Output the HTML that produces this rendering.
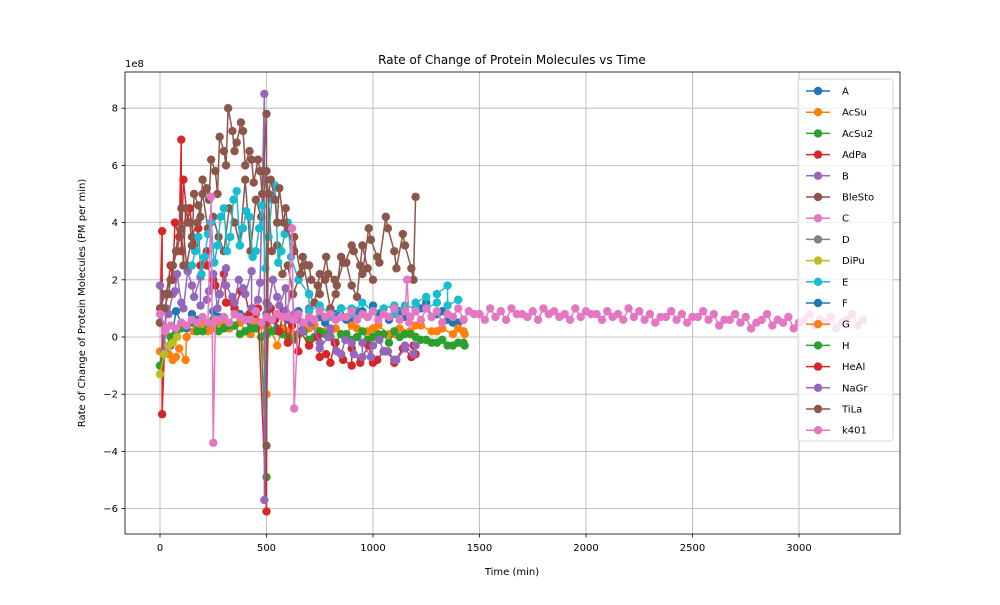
<!DOCTYPE html>
<html><head><meta charset="utf-8"><style>
body{margin:0;background:#fff;font-family:"Liberation Sans","DejaVu Sans",sans-serif}
svg text{font-family:"DejaVu Sans","Liberation Sans",sans-serif}
</style></head><body>
<svg id="chart" width="1000" height="600" xmlns="http://www.w3.org/2000/svg"></svg>
<script>
const xTicks=[0,500,1000,1500,2000,2500,3000];
const yTicks=[-6,-4,-2,0,2,4,6,8];
const seriesNames=["A","AcSu","AcSu2","AdPa","B","BleSto","C","D","DiPu","E","F","G","H","HeAl","NaGr","TiLa","k401"];
const seriesColors=["#1f77b4","#ff7f0e","#2ca02c","#d62728","#9467bd","#8c564b","#e377c2","#7f7f7f","#bcbd22","#17becf","#1f77b4","#ff7f0e","#2ca02c","#d62728","#9467bd","#8c564b","#e377c2"];
const blueT=[0,50,100,150,200,250,300,350,400,450,500,550,600,650,700,750,800,850,900,950,1000,1050,1100,1150,1200,1250,1300,1350,1400];
const blueV=[0.5,-0.3,0.5,0.8,0.6,0.9,0.4,1.0,0.7,0.5,0.8,0.3,0.6,0.9,0.5,0.7,0.8,1.0,0.6,0.9,1.1,0.8,1.0,0.7,0.9,1.2,0.8,0.6,0.5];
const blueXT=[25,75,125,175,225,275,325,375,425,475,525,575,625,675,725,775,825,875,925,975,1025,1075,1125,1175,1225,1275,1325,1375,1425];
const blueXV=[0.2,0.9,0.3,0.6,0.4,0.7,0.3,0.8,0.5,0.4,0.6,0.3,0.7,0.4,0.6,0.5,0.8,0.6,0.9,0.7,0.8,0.6,0.9,0.7,1.0,0.7,0.9,0.5,0.6];
const orangeT=[0,40,60,90,120,160,200,250,300,350,400,450,500,510,550,600,650,700,800,900,1000,1100,1200,1300,1400,1430];
const orangeV=[-0.5,-0.6,-0.8,-0.4,-0.8,0.2,0.5,0.3,0.6,0.4,0.2,0.5,-2.0,0.3,-0.3,0.2,0.1,0.3,0.2,0.4,0.3,0.1,0.4,0.2,0.3,0.1];
const orangeXT=[25,75,125,175,225,275,325,375,425,475,525,575,625,675,725,775,825,875,925,975,1025,1075,1125,1175,1225,1275,1325,1375,1425];
const orangeXV=[-0.4,-0.7,0.0,0.4,0.2,0.5,0.3,0.5,0.1,0.4,0.2,0.3,0.1,0.2,0.4,0.2,0.3,0.1,0.3,0.2,0.4,0.1,0.3,0.2,0.4,0.2,0.3,0.1,0.2];
const greenT=[0,50,100,150,200,250,300,350,400,450,500,500,550,600,650,700,750,800,850,900,950,1000,1050,1100,1150,1200,1250,1300,1350,1400,1430];
const greenV=[-1.0,0.0,0.3,0.5,0.2,0.6,0.3,0.4,0.2,0.3,-4.9,0.1,0.2,0.0,0.1,-0.1,0.2,0.0,0.1,-0.1,0.2,0.0,0.1,0.2,0.1,0.0,-0.1,-0.2,-0.3,-0.2,-0.3];
const greenXT=[25,75,125,175,225,275,325,375,425,475,525,575,625,675,725,775,825,875,925,975,1025,1075,1125,1175,1225,1275,1325,1375,1425];
const greenXV=[0.3,0.1,0.4,0.2,0.5,0.2,0.4,0.1,0.3,0.0,0.2,0.1,-0.1,0.2,0.0,0.1,-0.2,0.1,0.0,-0.1,0.1,-0.2,0.0,0.1,-0.1,-0.2,-0.1,-0.3,-0.2];
const redT=[0,10,10,30,50,70,90,100,110,130,160,190,220,250,280,310,350,400,450,500,500,520,560,600,650,700,750,800,850,900,950,1000,1050,1100,1150,1200];
const redV=[0.5,3.7,-2.7,1.5,2.5,4.0,3.5,6.9,5.5,4.0,3.2,2.5,3.0,2.0,1.5,1.2,1.0,1.5,0.8,-6.1,0.5,1.0,0.2,-0.2,-0.5,-0.3,-0.7,-0.9,-0.6,-1.0,-0.7,-0.9,-0.5,-0.8,-0.4,-0.6];
const redXT=[60,100,140,180,220,260,300,340,380,420,460,540,580,620,660,700,740,780,820,860,900,940,980,1020,1060,1100,1140,1180,1190];
const redXV=[2.0,3.0,4.5,3.8,2.5,1.8,2.2,1.2,1.6,0.8,1.0,0.6,0.9,0.4,0.2,-0.3,0.0,-0.6,-0.2,-0.8,-0.4,-0.9,-0.3,-0.8,-0.5,-0.9,-0.4,-0.7,-0.3];
const purpleT=[0,20,40,60,80,100,130,160,190,220,250,280,310,340,370,400,430,460,490,490,500,530,560,590,620,650,700,750,800,850,900,950,1000,1050,1100,1150,1200];
const purpleV=[1.8,-0.5,0.8,1.5,2.2,1.2,2.3,1.4,2.1,1.3,2.2,1.5,2.4,1.4,2.0,1.5,2.3,1.3,8.5,-5.7,1.2,2.0,1.1,1.7,1.5,0.6,1.0,-0.2,0.3,-0.6,-0.2,-0.7,-0.3,-0.5,-0.8,-0.4,-0.3];
const purpleXT=[30,70,110,150,190,230,270,310,350,390,430,470,510,550,590,630,670,710,750,790,830,870,910,950,990,1030,1070,1110,1150,1190];
const purpleXV=[1.0,1.6,1.0,1.8,1.1,1.6,1.0,1.8,1.2,1.7,1.0,1.9,1.1,1.4,0.9,0.8,0.2,0.5,-0.4,0.0,-0.5,-0.1,-0.6,-0.2,-0.7,-0.1,-0.5,-0.8,-0.3,-0.6];
const bleStoT=[0,50,100,150,200,250,300,350,400,450,500,550,600,650,700,750,800,850,900,950,1000];
const bleStoV=[1.0,2.0,4.5,3.5,5.0,4.2,3.0,4.0,5.5,4.8,5.8,3.2,2.5,2.0,1.5,2.2,1.0,2.8,1.8,3.2,2.0];
const bleStoXT=[25,75,125,175,225,275,325,375,425,475,525,575,625,675,725,775,825,875,925,975];
const bleStoXV=[1.5,3.0,2.5,4.0,3.8,3.5,4.5,3.2,3.0,4.2,3.0,2.2,1.5,2.5,1.2,2.0,1.5,2.6,1.4,2.4];
const cyanT=[150,180,210,240,270,300,330,360,390,420,450,480,510,540,570,600,650,700,800,900,1000,1100,1200,1250,1300,1350,1400];
const cyanV=[2.5,3.5,2.8,4.0,3.2,4.5,3.5,5.1,3.8,4.2,3.0,4.6,3.5,5.3,3.0,4.0,2.0,1.5,0.8,1.0,0.9,1.1,1.0,1.4,1.2,1.8,1.3];
const cyanXT=[165,195,225,255,285,315,345,375,405,435,465,495,525,555,585,615,700,750,800,850,900,950,1000,1050,1100,1150,1200,1250,1300,1350,1400];
const cyanXV=[3.0,2.2,3.6,2.6,4.2,3.0,4.8,3.2,4.4,2.8,3.8,2.4,4.8,2.6,3.6,2.8,0.9,1.1,0.7,1.0,0.8,1.2,0.9,1.0,0.8,1.1,1.2,1.0,1.5,1.1,1.3];
const oliveT=[0,20,40,60,80];
const oliveV=[-1.3,-0.6,-0.3,-0.2,0.0];
const tiLaT=[0,20,40,60,80,100,120,140,160,180,200,220,240,260,280,300,320,340,360,380,400,420,440,460,480,500,500,520,540,560,580,600,630,660,700,740,780,820,860,900,940,980,1020,1060,1100,1140,1180,1200];
const tiLaV=[0.5,1.0,1.5,2.5,3.0,3.8,4.5,4.0,5.0,4.6,5.5,5.2,6.2,5.8,7.0,6.5,8.0,7.2,6.8,7.5,6.0,6.5,5.4,6.2,5.0,7.8,-3.8,5.5,4.8,5.2,4.0,3.8,3.0,2.2,2.5,1.8,2.8,2.0,2.6,3.2,2.5,3.8,2.8,4.2,3.0,3.6,2.4,4.9];
const tiLaXT=[110,150,190,230,270,310,350,390,430,470,510,550,590,630,670,710,750,790,830,870,910,950,990,1030,1070,1110,1150,1190];
const tiLaXV=[2.5,3.2,4.2,4.8,5.0,6.0,6.5,7.2,6.2,5.8,5.0,4.0,4.5,3.5,2.8,2.0,1.5,2.2,1.8,2.6,3.0,2.2,3.4,2.6,3.8,2.4,3.2,2.0];
const k401T=[0,25,50,100,150,200,240,250,260,300,350,400,450,500,550,600,620,630,650,700,750,800,850,900,950,1000,1050,1100,1150,1160,1170,1200,1250,1300,1350,1400,1450,1500,1550,1600,1650,1700,1750,1800,1850,1900,1950,2000,2050,2100,2150,2200,2250,2300,2350,2400,2450,2500,2550,2600,2650,2700,2750,2800,2850,2900,2950,3000,3050,3100,3150,3200,3250,3300];
const k401V=[0.8,0.3,0.4,0.5,0.6,0.7,4.9,-3.7,0.6,0.7,0.8,0.6,0.9,0.7,0.8,0.7,3.8,-2.5,0.8,0.7,0.9,0.8,0.7,0.9,0.8,0.9,0.8,1.0,0.9,2.0,0.5,0.9,1.0,0.9,0.8,1.0,0.9,0.8,1.0,0.9,1.0,0.8,0.9,1.0,0.9,0.8,1.0,0.9,0.8,0.9,0.8,1.0,0.9,0.8,0.7,0.9,0.8,0.7,0.9,0.8,0.6,0.8,0.7,0.5,0.8,0.6,0.7,0.5,0.8,0.6,0.7,0.5,0.8,0.6];
const k401XT=[25,75,125,175,225,275,325,375,425,475,525,575,625,675,725,775,825,875,925,975,1025,1075,1125,1175,1225,1275,1325,1375,1425,1475,1525,1575,1625,1675,1725,1775,1825,1875,1925,1975,2025,2075,2125,2175,2225,2275,2325,2375,2425,2475,2525,2575,2625,2675,2725,2775,2825,2875,2925,2975,3025,3075,3125,3175,3225,3275];
const k401XV=[0.2,0.3,0.4,0.5,0.5,0.6,0.5,0.7,0.6,0.5,0.6,0.7,0.6,0.5,0.6,0.7,0.6,0.7,0.6,0.7,0.6,0.7,0.6,0.7,0.6,0.7,0.5,0.7,0.6,0.8,0.6,0.7,0.6,0.8,0.7,0.6,0.8,0.7,0.6,0.7,0.8,0.6,0.7,0.6,0.7,0.6,0.5,0.7,0.6,0.5,0.7,0.6,0.4,0.6,0.5,0.3,0.6,0.4,0.5,0.3,0.6,0.4,0.5,0.3,0.6,0.4];

const NS="http://www.w3.org/2000/svg",svg=document.getElementById('chart');
const L=125,R=900,T=72,B=534;
const sx=v=>160+v*106.5/500;
const sy=v=>337-v*28.6;
function mk(tag,attrs,parent){const e=document.createElementNS(NS,tag);for(const k in attrs)e.setAttribute(k,attrs[k]);(parent||svg).appendChild(e);return e;}
function merge(t1,v1,t2,v2){const p=t1.map((t,i)=>[t,v1[i],i]).concat(t2.map((t,i)=>[t+0.001,v2[i],1000+i]));p.sort((a,b)=>a[0]-b[0]||a[2]-b[2]);return [p.map(q=>q[0]),p.map(q=>q[1])];}
const grid=mk('g',{});


xTicks.forEach(v=>{const l=mk('line',{x1:sx(v),x2:sx(v),y1:T,y2:B,stroke:'#b0b0b0','stroke-width':0.8},grid);

});
yTicks.forEach(v=>{const l=mk('line',{x1:L,x2:R,y1:sy(v),y2:sy(v),stroke:'#b0b0b0','stroke-width':0.8},grid);

});
const data=[[...merge(blueT,blueV,blueXT,blueXV),0],[...merge(orangeT,orangeV,orangeXT,orangeXV),1],[...merge(greenT,greenV,greenXT,greenXV),2],[...merge(redT,redV,redXT,redXV),3],[...merge(purpleT,purpleV,purpleXT,purpleXV),4],[...merge(bleStoT,bleStoV,bleStoXT,bleStoXV),5],[oliveT,oliveV,8],[...merge(cyanT,cyanV,cyanXT,cyanXV),9],[...merge(tiLaT,tiLaV,tiLaXT,tiLaXV),15],[...merge(k401T,k401V,k401XT,k401XV),16]];
const clip=mk('clipPath',{id:'pc'});mk('rect',{x:L,y:T,width:R-L,height:B-T},clip);
data.forEach(([t,v,ci])=>{
 const g=mk('g',{'clip-path':'url(#pc)'});
 
 
 const c=seriesColors[ci];
 mk('polyline',{points:t.map((x,i)=>sx(x)+','+sy(v[i])).join(' '),fill:'none',stroke:c,'stroke-width':1.5},g);
 t.forEach((x,i)=>{const p=mk('circle',{cx:sx(x),cy:sy(v[i]),r:4.2,fill:c},g);
 
 });
});
const ax=mk('rect',{x:L,y:T,width:R-L,height:B-T,fill:'none',stroke:'#000','stroke-width':0.8});


xTicks.forEach(v=>{mk('line',{x1:sx(v),x2:sx(v),y1:B,y2:B+3.5,stroke:'#000','stroke-width':0.8});
 const t=mk('text',{x:sx(v),y:B+17,'font-size':10,'text-anchor':'middle'});t.textContent=v;
 
 });
yTicks.forEach(v=>{mk('line',{x1:L-3.5,x2:L,y1:sy(v),y2:sy(v),stroke:'#000','stroke-width':0.8});
 const t=mk('text',{x:L-7,y:sy(v)+3.5,'font-size':10,'text-anchor':'end'});t.textContent=(v<0?'\u2212'+(-v):v);
 
 });
function txt(s,a,name){const t=mk('text',a);t.textContent=s;
 
 return t;}
txt('1e8',{x:125,y:67,'font-size':10},'y-axis-multiplier');
txt('Rate of Change of Protein Molecules vs Time',{x:512,y:64,'font-size':12,'text-anchor':'middle'},'chart-title');
txt('Time (min)',{x:512,y:575,'font-size':10,'text-anchor':'middle'},'x-axis-title');
txt('Rate of Change of Protein Molecules (PM per min)',{x:0,y:0,'font-size':10,'text-anchor':'middle',transform:'translate(85,303) rotate(-90)'},'y-axis-title');
const lg=mk('g',{});


mk('rect',{x:798,y:79,width:95,height:362,rx:3,fill:'#fff','fill-opacity':0.8,stroke:'#ccc','stroke-width':0.8},lg);
seriesNames.forEach((n,i)=>{const y=91+i*21.2;const e=mk('g',{},lg);
 
 
 mk('line',{x1:806,x2:830,y1:y,y2:y,stroke:seriesColors[i],'stroke-width':1.5},e);
 mk('circle',{cx:818,cy:y,r:4.2,fill:seriesColors[i]},e);
 const t=mk('text',{x:842,y:y+3.5,'font-size':10},e);t.textContent=n;});
</script>
</body></html>
